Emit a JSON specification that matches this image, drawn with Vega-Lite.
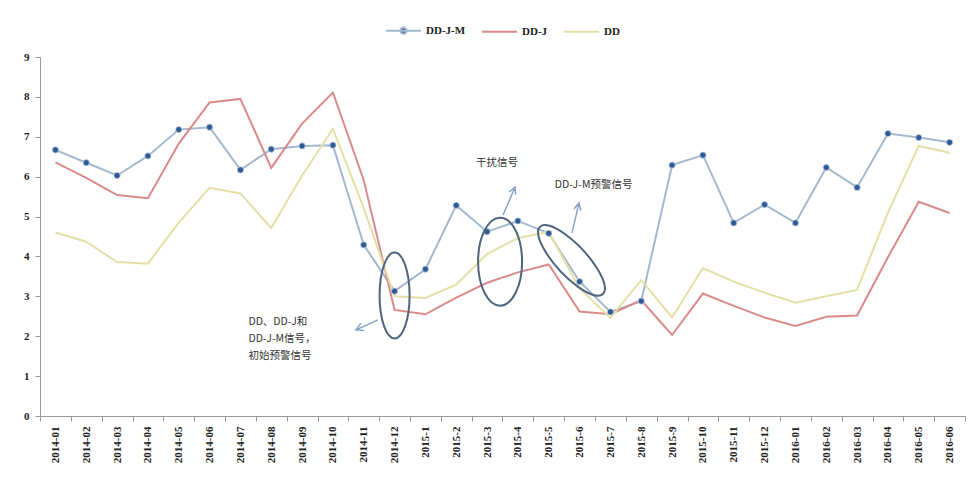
{
  "$schema": "https://vega.github.io/schema/vega-lite/v6.json",
  "width": 925,
  "height": 359,
  "autosize": {"type": "none"},
  "padding": {"left": 40, "top": 57, "right": 7, "bottom": 61},
  "background": "white",
  "config": {
    "view": {"stroke": null},
    "axis": {"labelFont": "Liberation Serif", "labelFontWeight": "bold", "labelFontSize": 11, "labelColor": "#222", "domainColor": "#9a9a9a", "tickColor": "#9a9a9a", "grid": false, "title": null}
  },
  "datasets": {
    "series": [
      {"date": "2014-01", "DD-J-M": 6.67, "DD-J": 6.36, "DD": 4.6},
      {"date": "2014-02", "DD-J-M": 6.35, "DD-J": 5.97, "DD": 4.37},
      {"date": "2014-03", "DD-J-M": 6.03, "DD-J": 5.54, "DD": 3.86},
      {"date": "2014-04", "DD-J-M": 6.52, "DD-J": 5.46, "DD": 3.82},
      {"date": "2014-05", "DD-J-M": 7.18, "DD-J": 6.83, "DD": 4.85},
      {"date": "2014-06", "DD-J-M": 7.24, "DD-J": 7.86, "DD": 5.72},
      {"date": "2014-07", "DD-J-M": 6.17, "DD-J": 7.95, "DD": 5.58},
      {"date": "2014-08", "DD-J-M": 6.69, "DD-J": 6.22, "DD": 4.71},
      {"date": "2014-09", "DD-J-M": 6.77, "DD-J": 7.33, "DD": 6.03},
      {"date": "2014-10", "DD-J-M": 6.79, "DD-J": 8.11, "DD": 7.2},
      {"date": "2014-11", "DD-J-M": 4.29, "DD-J": 5.91, "DD": 5.21},
      {"date": "2014-12", "DD-J-M": 3.13, "DD-J": 2.66, "DD": 3.0},
      {"date": "2015-1", "DD-J-M": 3.68, "DD-J": 2.55, "DD": 2.96},
      {"date": "2015-2", "DD-J-M": 5.28, "DD-J": 2.97, "DD": 3.29},
      {"date": "2015-3", "DD-J-M": 4.62, "DD-J": 3.34, "DD": 4.06},
      {"date": "2015-4", "DD-J-M": 4.89, "DD-J": 3.6, "DD": 4.46},
      {"date": "2015-5", "DD-J-M": 4.58, "DD-J": 3.8, "DD": 4.62},
      {"date": "2015-6", "DD-J-M": 3.37, "DD-J": 2.62, "DD": 3.2},
      {"date": "2015-7", "DD-J-M": 2.61, "DD-J": 2.55, "DD": 2.46},
      {"date": "2015-8", "DD-J-M": 2.88, "DD-J": 2.9, "DD": 3.41},
      {"date": "2015-9", "DD-J-M": 6.29, "DD-J": 2.03, "DD": 2.47},
      {"date": "2015-10", "DD-J-M": 6.54, "DD-J": 3.07, "DD": 3.71},
      {"date": "2015-11", "DD-J-M": 4.84, "DD-J": 2.76, "DD": 3.37},
      {"date": "2015-12", "DD-J-M": 5.3, "DD-J": 2.47, "DD": 3.09},
      {"date": "2016-01", "DD-J-M": 4.84, "DD-J": 2.26, "DD": 2.84},
      {"date": "2016-02", "DD-J-M": 6.23, "DD-J": 2.49, "DD": 3.0},
      {"date": "2016-03", "DD-J-M": 5.73, "DD-J": 2.52, "DD": 3.16},
      {"date": "2016-04", "DD-J-M": 7.08, "DD-J": 3.98, "DD": 5.1},
      {"date": "2016-05", "DD-J-M": 6.98, "DD-J": 5.37, "DD": 6.77},
      {"date": "2016-06", "DD-J-M": 6.86, "DD-J": 5.09, "DD": 6.6}
    ],
    "notes": [
      {"date": "2014-07", "value": 2.47, "text": "DD、DD-J和\nDD-J-M信号，\n初始预警信号", "id": "n1"},
      {"date": "2015-3", "value": 6.34, "text": "干扰信号", "id": "n2"},
      {"date": "2015-6", "value": 5.8, "text": "DD-J-M预警信号", "id": "n3"}
    ],
    "marks": [
      {"date": "2014-12", "value": 3.02, "id": "e1"},
      {"date": "2015-3", "value": 3.87, "id": "e2"},
      {"date": "2015-6", "value": 3.9, "id": "e3"},
      {"date": "2014-12", "value": 2.41, "id": "a1"},
      {"date": "2015-3", "value": 5.04, "id": "a2"},
      {"date": "2015-6", "value": 4.59, "id": "a3"}
    ]
  },
  "encoding": {
    "x": {
      "field": "date", "type": "ordinal", "sort": null,
      "scale": {"type": "band", "paddingInner": 0, "paddingOuter": 0,
        "domain": ["2014-01","2014-02","2014-03","2014-04","2014-05","2014-06","2014-07","2014-08","2014-09","2014-10","2014-11","2014-12","2015-1","2015-2","2015-3","2015-4","2015-5","2015-6","2015-7","2015-8","2015-9","2015-10","2015-11","2015-12","2016-01","2016-02","2016-03","2016-04","2016-05","2016-06"]},
      "axis": {"tickBand": "extent", "labelAngle": -90, "tickSize": 5, "labelPadding": 5}
    },
    "y": {
      "field": "value", "type": "quantitative",
      "scale": {"domain": [0, 9], "nice": false},
      "axis": {"values": [0,1,2,3,4,5,6,7,8,9], "tickSize": 5, "labelPadding": 6}
    }
  },
  "layer": [
    {
      "data": {"name": "series"},
      "transform": [{"fold": ["DD-J-M", "DD-J", "DD"], "as": ["series", "value"]}],
      "mark": {"type": "line", "strokeWidth": 2},
      "encoding": {
        "color": {
          "field": "series", "type": "nominal",
          "scale": {"domain": ["DD-J-M", "DD-J", "DD"], "range": ["#a3b8cf", "#d98a8a", "#e4dfa6"]},
          "legend": {
            "title": null, "orient": "none", "legendX": 345, "legendY": -45, "direction": "horizontal",
            "symbolType": "stroke", "symbolSize": 1225, "symbolStrokeWidth": 2, "columnPadding": 12,
            "labelFont": "Liberation Serif", "labelFontWeight": "bold", "labelFontSize": 11, "labelColor": "#222",
            "encode": {"symbols": {"update": {
              "shape": {"signal": "datum.value === 'DD-J-M' ? 'M-1,0L1,0M-0.18,0A0.18,0.18 0 1,1 0.18,0A0.18,0.18 0 1,1 -0.18,0Z' : 'stroke'"},
              "fill": {"signal": "datum.value === 'DD-J-M' ? '#2f5c96' : 'transparent'"}
            }}}
          }
        }
      }
    },
    {
      "data": {"name": "series"},
      "transform": [{"fold": ["DD-J-M"], "as": ["series", "value"]}],
      "mark": {"type": "point", "filled": true, "size": 40, "color": "#2f5c96", "opacity": 1, "stroke": "#c9d6e6", "strokeWidth": 0.8}
    },
    {
      "data": {"name": "marks"},
      "transform": [{"filter": "datum.id === 'e1'"}],
      "mark": {"type": "point", "filled": false, "size": 400, "color": "#4f6680", "strokeWidth": 2, "opacity": 1,
        "shape": "M -1.5 0 A 1.5 4.3 0 1 0 1.5 0 A 1.5 4.3 0 1 0 -1.5 0"}
    },
    {
      "data": {"name": "marks"},
      "transform": [{"filter": "datum.id === 'e2'"}],
      "mark": {"type": "point", "filled": false, "size": 400, "color": "#4f6680", "strokeWidth": 2, "opacity": 1,
        "shape": "M -0.9 0 A 2.2 4.4 0 1 0 3.5 0 A 2.2 4.4 0 1 0 -0.9 0"}
    },
    {
      "data": {"name": "marks"},
      "transform": [{"filter": "datum.id === 'e3'"}],
      "mark": {"type": "point", "filled": false, "size": 400, "color": "#4f6680", "strokeWidth": 2, "opacity": 1,
        "shape": "M -3.95 -3.36 A 4.6 1.5 47 1 0 2.33 3.36 A 4.6 1.5 47 1 0 -3.95 -3.36"}
    },
    {
      "data": {"name": "marks"},
      "transform": [{"filter": "datum.id === 'a1'"}],
      "mark": {"type": "point", "filled": false, "size": 400, "color": "#8aa3c6", "strokeWidth": 1.5, "opacity": 1,
        "shape": "M -1.66 0 L -3.86 1.0 M -3.06 1.07 L -3.86 1.0 L -3.38 0.35"}
    },
    {
      "data": {"name": "marks"},
      "transform": [{"filter": "datum.id === 'a2'"}],
      "mark": {"type": "point", "filled": false, "size": 400, "color": "#8aa3c6", "strokeWidth": 1.5, "opacity": 1,
        "shape": "M 1.6 0 L 2.8 -2.8 M 2.85 -2.02 L 2.8 -2.8 L 2.21 -2.3"}
    },
    {
      "data": {"name": "marks"},
      "transform": [{"filter": "datum.id === 'a3'"}],
      "mark": {"type": "point", "filled": false, "size": 400, "color": "#8aa3c6", "strokeWidth": 1.5, "opacity": 1,
        "shape": "M -0.76 0 L -0.06 -3.0 M 0.12 -2.24 L -0.06 -3.0 L -0.56 -2.4"}
    },
    {
      "data": {"name": "notes"},
      "transform": [{"filter": "datum.id === 'n1'"}],
      "mark": {"type": "text", "align": "left", "baseline": "top", "dx": 8, "lineBreak": "\n", "lineHeight": 17,
        "font": "Noto Sans CJK SC", "fontSize": 10.5, "color": "#333"},
      "encoding": {"text": {"field": "text"}}
    },
    {
      "data": {"name": "notes"},
      "transform": [{"filter": "datum.id === 'n2'"}],
      "mark": {"type": "text", "align": "center", "baseline": "middle", "dx": 10,
        "font": "Noto Sans CJK SC", "fontSize": 10.5, "color": "#333"},
      "encoding": {"text": {"field": "text"}}
    },
    {
      "data": {"name": "notes"},
      "transform": [{"filter": "datum.id === 'n3'"}],
      "mark": {"type": "text", "align": "center", "baseline": "middle", "dx": 14,
        "font": "Noto Sans CJK SC", "fontSize": 10.5, "color": "#333"},
      "encoding": {"text": {"field": "text"}}
    }
  ]
}
